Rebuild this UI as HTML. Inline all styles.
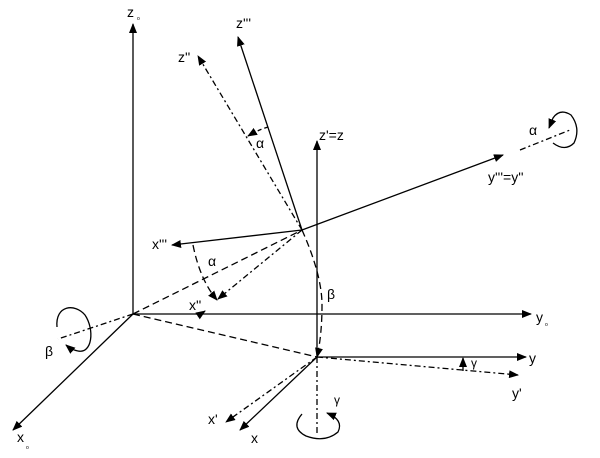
<!DOCTYPE html>
<html><head><style>body{margin:0;background:#fff}svg{display:block}text{font-family:"Liberation Sans",sans-serif;font-size:14px;fill:#000}</style></head><body>
<svg width="600" height="458" viewBox="0 0 600 458" xmlns="http://www.w3.org/2000/svg">
<defs><marker id="a" markerWidth="10" markerHeight="8" refX="9" refY="4" orient="auto" markerUnits="userSpaceOnUse"><path d="M0,0L10,4L0,8z"/></marker></defs>
<g stroke="#000" stroke-width="1.3" fill="none">
<line x1="133" y1="314" x2="133" y2="24" marker-end="url(#a)"/>
<line x1="133" y1="314" x2="531" y2="314" marker-end="url(#a)"/>
<line x1="133" y1="314" x2="13" y2="430" marker-end="url(#a)"/>
<line x1="302" y1="230" x2="238" y2="37" marker-end="url(#a)"/>
<line x1="302" y1="230" x2="198" y2="56" stroke-dasharray="6,3,2,3" marker-end="url(#a)"/>
<line x1="302" y1="230" x2="172" y2="245" marker-end="url(#a)"/>
<line x1="302" y1="230" x2="503" y2="155" marker-end="url(#a)"/>
<line x1="133" y1="314" x2="302" y2="230" stroke-dasharray="7,4"/>
<line x1="302" y1="230" x2="218" y2="299" stroke-dasharray="6,3,2,3" marker-end="url(#a)"/>
<line x1="133" y1="314" x2="317" y2="357" stroke-dasharray="7,4"/>
<line x1="317" y1="357" x2="317" y2="141" marker-end="url(#a)"/>
<line x1="317" y1="357" x2="526" y2="357" marker-end="url(#a)"/>
<line x1="317" y1="357" x2="518" y2="375" stroke-dasharray="6,3,2,3" marker-end="url(#a)"/>
<line x1="317" y1="357" x2="240" y2="430" marker-end="url(#a)"/>
<line x1="317" y1="357" x2="226" y2="422" stroke-dasharray="6,3,2,3" marker-end="url(#a)"/>
<line x1="317" y1="357" x2="317" y2="434" stroke-dasharray="6,3,2,3"/>
<line x1="133" y1="314" x2="58" y2="339" stroke-dasharray="6,3,2,3"/>
<line x1="520" y1="150" x2="570" y2="130" stroke-dasharray="6,3,2,3"/>
<path d="M302,230 Q322,275 322,305 Q322,335 317,357" stroke-dasharray="7,4" marker-end="url(#a)"/>
<path d="M193,245 Q200,280 217,300" stroke-dasharray="7,4" marker-end="url(#a)"/>
<path d="M268,127 Q258,130 248,136" stroke-dasharray="4,3" marker-end="url(#a)"/>
<path d="M463,371 L463,358" marker-end="url(#a)"/>
<path d="M202,313 L205,311" marker-end="url(#a)"/>
<path d="M57,327 C55,305 75,303 85,315 C95,330 92,354 78,351 Q72,350 66,345" marker-end="url(#a)"/>
<path d="M553,143 Q565,152 574,143 Q581,128 571,115 Q560,108 553,118 L549,128" marker-end="url(#a)"/>
<path d="M302,414 Q290,428 306,436 Q325,443 338,432 Q344,420 327,413" marker-end="url(#a)"/>
</g>
<text x="127" y="17">z</text><text x="137" y="20" style="font-size:5px">o</text>
<text x="236" y="28">z'''</text>
<text x="178" y="62">z''</text>
<text x="319" y="140">z'=z</text>
<text x="256" y="148">α</text>
<text x="529" y="135">α</text>
<text x="488" y="182">y'''=y''</text>
<text x="152" y="249">x'''</text>
<text x="208" y="266">α</text>
<text x="189" y="310">x''</text>
<text x="327" y="299">β</text>
<text x="536" y="322">y</text><text x="545" y="326" style="font-size:5px">o</text>
<text x="45" y="356">β</text>
<text x="17" y="442">x</text><text x="26" y="449" style="font-size:5px">o</text>
<text x="529" y="363">y</text>
<text x="471" y="367" style="font-size:12px">γ</text>
<text x="512" y="398">y'</text>
<text x="208" y="424">x'</text>
<text x="251" y="443">x</text>
<text x="334" y="404" style="font-size:12px">γ</text>
</svg>
</body></html>
